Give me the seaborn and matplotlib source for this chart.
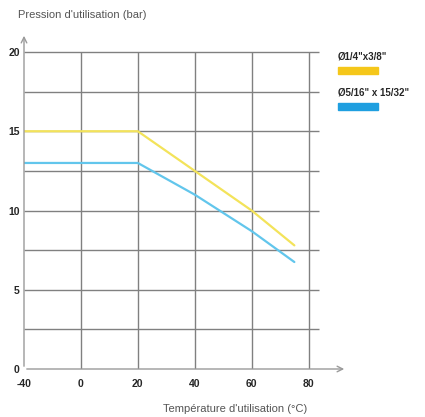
import numpy as np
import pandas as pd
import matplotlib
matplotlib.use("Agg")
import matplotlib.pyplot as plt
import seaborn as sns
from matplotlib.patches import Rectangle

# données
temp_a = [-40, 20, 40, 60, 75]
pression_a = [15, 15, 12.5, 10, 7.8]
temp_b = [-40, 20, 40, 60, 75]
pression_b = [13, 13, 11, 8.7, 6.75]
labels = ['Ø1/4"x3/8"', 'Ø5/16" x 15/32"']
x_ticks = [-40, 0, 20, 40, 60, 80]
y_ticks = [0, 5, 10, 15, 20]
y_grid = [2.5, 5, 7.5, 10, 12.5, 15, 17.5, 20]

sns.set_style("white")
plt.rcParams['font.family'] = ['Liberation Sans Narrow', 'Liberation Sans', 'DejaVu Sans']

df = pd.concat([
    pd.DataFrame({'temp': temp_a, 'pression': pression_a, 'serie': labels[0]}),
    pd.DataFrame({'temp': temp_b, 'pression': pression_b, 'serie': labels[1]}),
])
couleurs_ligne = {labels[0]: '#f3e35a', labels[1]: '#62c6ec'}
couleurs_leg = ['#f5c71a', '#1f9fe0']

W, H = 425, 417
fig = plt.figure(figsize=(W / 100, H / 100), dpi=100)
ax = fig.add_axes([24 / W, (H - 369) / H, (347 - 24) / W, (369 - 33) / H])

# échelle : de -40 à 0 compressé (même pas que 20 °C)
def fwd(t):
    t = np.asarray(t, dtype=float)
    return np.where(t < 0, t / 2, t)

def inv(u):
    u = np.asarray(u, dtype=float)
    return np.where(u < 0, u * 2, u)

ax.set_xscale('function', functions=(fwd, inv))
ax.set_xlim(-40, 93.5)
ax.set_ylim(0, 21.2)

grille = '#808080'
ax.hlines(y_grid, -40, 83.5, color=grille, lw=1.0, zorder=1)
ax.vlines(x_ticks[1:], 0, 20, color=grille, lw=1.0, zorder=1)

sns.lineplot(data=df, x='temp', y='pression', hue='serie', palette=couleurs_ligne,
             lw=1.6, legend=False, ax=ax, zorder=3)

for s in ax.spines.values():
    s.set_visible(False)

# axes avec flèches
ax.annotate('', xy=(1.0, 0), xytext=(0, 0), xycoords='axes fraction',
            arrowprops=dict(arrowstyle='->', color='#9a9a9a', lw=1.0))
ax.annotate('', xy=(0, 1.0), xytext=(0, 0), xycoords='axes fraction',
            arrowprops=dict(arrowstyle='->', color='#9a9a9a', lw=1.0))

ax.set_xticks(x_ticks)
ax.set_xticklabels([str(v) for v in x_ticks])
ax.set_yticks(y_ticks)
ax.set_yticklabels([str(v) for v in y_ticks])
ax.tick_params(axis='x', length=0, labelsize=7.5, pad=7)
ax.tick_params(axis='y', length=0, labelsize=7.5, pad=3)
for t in ax.get_xticklabels() + ax.get_yticklabels():
    t.set_fontweight('bold')
ax.set_xlabel('')
ax.set_ylabel('')

fig.text(18 / W, 1 - 15 / H, "Pression d'utilisation (bar)", fontsize=8,
         color='#555555', va='center', ha='left')
fig.text(163 / W, 1 - 409 / H, "Température d'utilisation (°C)", fontsize=8,
         color='#555555', va='center', ha='left')

# légende
for i, (lab, c) in enumerate(zip(labels, couleurs_leg)):
    ty = 56 + i * 36
    fig.text(338 / W, 1 - ty / H, lab, fontsize=7, fontweight='bold',
             va='center', ha='left')
    fig.patches.append(Rectangle((338 / W, 1 - (ty + 18) / H), 40 / W, 7 / H,
                                 transform=fig.transFigure, color=c))

fig.savefig('out.png', dpi=100)
